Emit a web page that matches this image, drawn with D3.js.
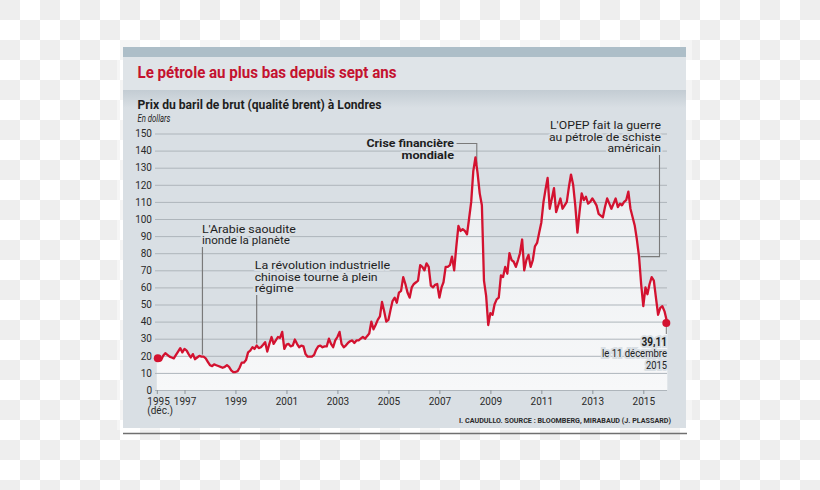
<!DOCTYPE html>
<html><head><meta charset="utf-8">
<script src="https://cdn.jsdelivr.net/npm/d3@7"></script>
<style>
body{margin:0;padding:0;overflow:hidden;background:#fff}
svg{display:block;font-family:Roboto,"Noto Sans",sans-serif}
</style>
</head><body>
<svg id="chart" width="820" height="490"></svg>
<script>
// ---------------- DATA ----------------
const titleText = "Le pétrole au plus bas depuis sept ans";
const subtitleText = "Prix du baril de brut (qualité brent) à Londres";
const unitText = "En dollars";
const sourceText = "I. CAUDULLO. SOURCE : BLOOMBERG, MIRABAUD (J. PLASSARD)";

// monthly Brent price (USD), Dec 1995 -> Dec 2015 (last point: 11 Dec 2015)
const price1995 = [18.5];
const price1996 = [17, 17.5, 20, 21.5, 20.5, 19.5, 19, 18.5, 20.5, 22.5, 24.5, 22];
const price1997 = [24, 23, 21, 19, 21, 18, 19, 20, 19.5, 19.5, 18.5, 16.5];
const price1998 = [14.5, 14, 15, 14.5, 14, 13.5, 13, 13.5, 14.5, 13.5, 11.5, 10.5];
const price1999 = [10.5, 11, 13, 16, 16, 17.5, 22, 23, 25, 24, 26, 24.5];
const price2000 = [25, 26.5, 28, 22.5, 27, 31, 27, 29, 31, 30.5, 34, 24];
const price2001 = [26.5, 27, 25.5, 26, 29.5, 27, 25, 26, 25.5, 21, 19.5, 19.5];
const price2002 = [19.5, 20.5, 23.5, 25.5, 26, 25, 25.5, 25.5, 30, 27, 25, 29];
const price2003 = [31, 34, 27, 25, 26, 27.5, 28.5, 29, 27.5, 29, 29, 30];
const price2004 = [31, 30, 31.5, 33, 40, 35.5, 38, 41, 43, 51.5, 46, 40];
const price2005 = [41, 47, 52, 54, 51, 57, 58, 66, 62, 57, 54, 60];
const price2006 = [62, 63, 64, 73, 72, 70, 74, 72, 61, 60, 61.5, 62];
const price2007 = [54, 60, 63, 72, 72, 73, 78, 70, 84, 96, 93, 94];
const price2008 = [93, 91, 100, 110, 128, 136, 127, 115, 108, 64, 55, 38];
const price2009 = [45, 44, 50, 53, 54, 67, 66, 72, 68, 80, 76, 75];
const price2010 = [72, 76, 80, 88, 70, 76, 79, 72, 76, 84, 86, 92];
const price2011 = [98, 110, 117, 124, 106, 112, 118, 104, 108, 112, 106, 108];
const price2012 = [110, 119, 126, 120, 108, 92, 104, 115, 111, 113, 109, 110];
const price2013 = [112, 110, 108, 103, 102, 101, 107, 112, 109, 106, 109, 112];
const price2014 = [107, 109, 108, 110, 111, 116, 106, 101, 96, 88, 78, 62];
const price2015 = [49, 60, 56, 62, 66, 64, 54, 44, 48, 49, 46, 39.11];

const firstMonth = "1995-12-01";
const lastDay = "2015-12-11";
const lastLabel = ["39,11", "le 11 décembre", "2015"];

const yTicks = [0,10,20,30,40,50,60,70,80,90,100,110,120,130,140,150];
const xTickDates = ["1995-12-01","1997-01-01","1999-01-01","2001-01-01","2003-01-01","2005-01-01","2007-01-01","2009-01-01","2011-01-01","2013-01-01","2015-01-01"];
const xTickLabels = ["1995","1997","1999","2001","2003","2005","2007","2009","2011","2013","2015"];

const annArabie = {date:"1997-09-15", lines:["L'Arabie saoudite","inonde la planète"]};
const annChine  = {date:"1999-11-01", lines:["La révolution industrielle","chinoise tourne à plein","régime"]};
const annCrise  = {date:"2008-06-20", lines:["Crise financière","mondiale"]};
const annOpep   = {date:"2014-11-01", lines:["L'OPEP fait la guerre","au pétrole de schiste","américain"]};

// ---------------- BUILD ----------------
const parse = d3.utcParse("%Y-%m-%d");
const values = [].concat(price1995,price1996,price1997,price1998,price1999,price2000,price2001,
  price2002,price2003,price2004,price2005,price2006,price2007,price2008,price2009,price2010,
  price2011,price2012,price2013,price2014,price2015);
const months = d3.utcMonth.range(parse(firstMonth), parse("2016-01-01"));
months[months.length-1] = parse(lastDay);
const data = months.map((d,i)=>({date:d, value:values[i]}));

const svg = d3.select("#chart");
const defs = svg.append("defs");

// checkerboard background
const pat = defs.append("pattern").attr("id","checker").attr("width",40).attr("height",40)
  .attr("patternUnits","userSpaceOnUse");
pat.append("rect").attr("width",40).attr("height",40).attr("fill","#ffffff");
pat.append("rect").attr("width",20).attr("height",20).attr("fill","#eeeeee");
pat.append("rect").attr("x",20).attr("y",20).attr("width",20).attr("height",20).attr("fill","#eeeeee");
svg.append("rect").attr("width",820).attr("height",490).attr("fill","url(#checker)");

// gradients
const gShadow = defs.append("linearGradient").attr("id","shadow").attr("x1",0).attr("x2",0).attr("y1",0).attr("y2",1);
gShadow.append("stop").attr("offset","0").attr("stop-color","#c3ccd3");
gShadow.append("stop").attr("offset","1").attr("stop-color","#d9dfe4");
const gArea = defs.append("linearGradient").attr("id","areaFill").attr("gradientUnits","userSpaceOnUse")
  .attr("x1",0).attr("x2",0).attr("y1",150).attr("y2",390);
gArea.append("stop").attr("offset","0").attr("stop-color","#eaedf0");
gArea.append("stop").attr("offset","1").attr("stop-color","#f7f8f9");

const BG = "#d9dfe4";
// panel
svg.append("rect").attr("x",117).attr("y",40).attr("width",575).attr("height",390).attr("fill","#ffffff").attr("opacity",0.4);
svg.append("rect").attr("x",123).attr("y",47).attr("width",563).attr("height",381).attr("fill",BG);
svg.append("rect").attr("x",123).attr("y",47).attr("width",563).attr("height",10).attr("fill","#adbec8");
svg.append("rect").attr("x",123).attr("y",57).attr("width",563).attr("height",33).attr("fill","#dfe4e8");
svg.append("rect").attr("x",123).attr("y",90).attr("width",563).attr("height",18).attr("fill","url(#shadow)");
svg.append("line").attr("x1",123).attr("x2",687).attr("y1",433.5).attr("y2",433.5)
  .attr("stroke","#707070").attr("stroke-width",1.5);

function fit(sel, w){ sel.attr("textLength", w).attr("lengthAdjust","spacingAndGlyphs"); return sel; }

// titles
fit(svg.append("text").attr("x",137.5).attr("y",78).attr("fill","#c4122f")
  .attr("font-size",16).attr("font-weight",700).text(titleText), 259);
fit(svg.append("text").attr("x",137.5).attr("y",109).attr("fill","#1e1e1e")
  .attr("font-size",12).attr("font-weight",700).text(subtitleText), 244);
fit(svg.append("text").attr("x",137.5).attr("y",122).attr("fill","#1e1e1e")
  .attr("font-size",10.5).attr("font-style","italic").text(unitText), 33);

// scales
const x = d3.scaleUtc().domain([parse("1995-12-01"), parse("2015-01-01")]).range([156.8, 643.3]);
const y = d3.scaleLinear().domain([0,150]).range([390,133.5]);

// area
const area = d3.area().x(d=>x(d.date)).y0(y(0)).y1(d=>y(d.value)).curve(d3.curveLinear);
svg.append("path").datum(data).attr("d",area).attr("fill","url(#areaFill)");

// grid + y labels
const yAxis = svg.append("g").attr("transform","translate(155,0)")
  .call(d3.axisLeft(y).tickValues(yTicks).tickSize(-512).tickPadding(3).tickFormat(d3.format("d")));
yAxis.select(".domain").remove();
yAxis.selectAll(".tick line").attr("stroke","#aeb5bb").attr("stroke-width",1);
yAxis.selectAll(".tick text").attr("fill","#2a2a2a").attr("font-size",10).attr("font-family","Roboto");

// x axis
const xAxis = svg.append("g").attr("transform","translate(0,390)")
  .call(d3.axisBottom(x).tickValues(xTickDates.map(parse)).tickSize(4).tickPadding(4)
    .tickFormat((d,i)=>xTickLabels[i]));
xAxis.select(".domain").remove();
xAxis.selectAll(".tick line").attr("stroke","#8c949a");
xAxis.selectAll(".tick text").attr("fill","#2a2a2a").attr("font-size",10).attr("font-family","Roboto");
xAxis.select(".tick text").each(function(){
  d3.select(this).append("tspan").attr("x",0).attr("dy","0.9em").text("(déc.)");
  d3.select(this).attr("text-anchor","start").attr("x",-10);
});
xAxis.select(".tick text").selectAll("tspan").attr("x",-10);

// annotation helpers
const LEAD = "#7a7a7a";
function textBlock(xPos, yFirst, lines, opts){
  const t = svg.append("g");
  lines.forEach((s,i)=>{
    const el = t.append("text").attr("x",xPos).attr("y",yFirst+i*opts.lh)
      .attr("text-anchor",opts.anchor||"start").attr("font-size",opts.size)
      .attr("font-weight",opts.weight||400).attr("fill","#1e1e1e")
      .attr("stroke",BG).attr("stroke-width",4).attr("stroke-linejoin","round")
      .attr("paint-order","stroke").text(s);
    if(opts.widths) fit(el, opts.widths[i]);
  });
  return t;
}
function valueAt(dateStr){
  const dt = parse(dateStr);
  const i = d3.bisector(d=>d.date).left(data, dt);
  const a = data[Math.max(0,i-1)], b = data[Math.min(data.length-1,i)];
  if(a===b) return a.value;
  const f = (dt-a.date)/(b.date-a.date);
  return a.value + (b.value-a.value)*f;
}

// Arabie
{
  const ax = x(parse(annArabie.date));
  svg.append("line").attr("x1",ax).attr("x2",ax).attr("y1",247).attr("y2",y(valueAt(annArabie.date))-2)
    .attr("stroke",LEAD).attr("stroke-width",1.2);
  textBlock(ax-0.5, 232.5, annArabie.lines, {lh:11.6, size:11, widths:[94,88]});
}
// Chine
{
  const cx = x(parse(annChine.date));
  svg.append("line").attr("x1",cx).attr("x2",cx).attr("y1",295).attr("y2",y(valueAt(annChine.date))-2)
    .attr("stroke",LEAD).attr("stroke-width",1.2);
  textBlock(cx-2, 269.3, annChine.lines, {lh:11.2, size:11, widths:[135.5,123,39]});
}
// Crise
{
  const px = x(parse(annCrise.date));
  svg.append("path").attr("d",`M456.5,143.5H${px}V${y(valueAt(annCrise.date))-3}`)
    .attr("fill","none").attr("stroke",LEAD).attr("stroke-width",1.1);
  textBlock(454, 147.3, annCrise.lines, {lh:12, size:11.5, weight:700, anchor:"end", widths:[87.5,52.5]});
}
// OPEP
{
  const ox = x(parse(annOpep.date));
  const oy = y(valueAt(annOpep.date));
  svg.append("path").attr("d",`M659.5,155V${oy}H${ox+1.5}`)
    .attr("fill","none").attr("stroke",LEAD).attr("stroke-width",1.1);
  textBlock(661, 129.3, annOpep.lines, {lh:11.3, size:11, anchor:"end", widths:[111,112,53.5]});
}

// line
const line = d3.line().x(d=>x(d.date)).y(d=>y(d.value)).curve(d3.curveLinear);
svg.append("path").datum(data).attr("d",line).attr("fill","none")
  .attr("stroke","#d31230").attr("stroke-width",2.3).attr("stroke-linejoin","round");

// endpoints
const first = data[0], last = data[data.length-1];
svg.append("circle").attr("cx",x(first.date)+1).attr("cy",y(first.value)).attr("r",4).attr("fill","#d31230");
svg.append("line").attr("x1",x(last.date)-1).attr("x2",x(last.date)-1).attr("y1",y(last.value)).attr("y2",334)
  .attr("stroke",LEAD).attr("stroke-width",1);
svg.append("circle").attr("cx",x(last.date)-1).attr("cy",y(last.value)).attr("r",4).attr("fill","#d31230");

// last value label
{
  const lx = 667;
  fit(svg.append("text").attr("x",lx).attr("y",345.7).attr("text-anchor","end").attr("font-size",12)
    .attr("font-weight",700).attr("fill","#1e1e1e").attr("stroke",BG).attr("stroke-width",4)
    .attr("paint-order","stroke").text(lastLabel[0]), 25.5);
  fit(svg.append("text").attr("x",lx).attr("y",357).attr("text-anchor","end").attr("font-size",10)
    .attr("fill","#1e1e1e").attr("stroke",BG).attr("stroke-width",4).attr("paint-order","stroke")
    .text(lastLabel[1]), 65);
  fit(svg.append("text").attr("x",lx).attr("y",369).attr("text-anchor","end").attr("font-size",10)
    .attr("fill","#1e1e1e").attr("stroke",BG).attr("stroke-width",4).attr("paint-order","stroke")
    .text(lastLabel[2]), 21);
}

// source
fit(svg.append("text").attr("x",671).attr("y",422.7).attr("text-anchor","end").attr("font-size",7.5)
  .attr("font-weight",700).attr("fill","#2a2a2a").text(sourceText), 212);
</script>
</body></html>
